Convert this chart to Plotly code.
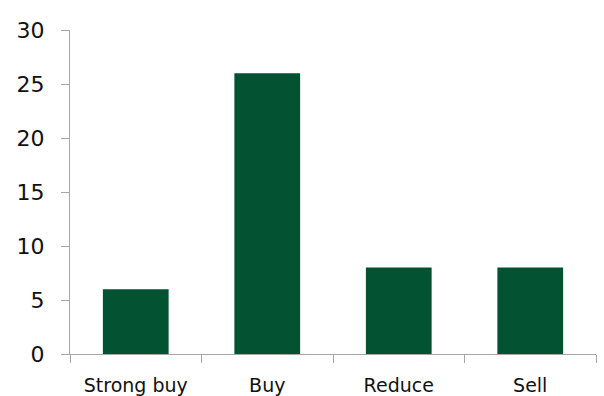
import plotly.graph_objects as go

categories = ["Strong buy", "Buy", "Reduce", "Sell"]
values = [6, 26, 8, 8]
y_ticks = [0, 5, 10, 15, 20, 25, 30]

fig = go.Figure(go.Bar(x=categories, y=values, marker_color="#035232",
                       marker_line_width=0, width=0.5))

fig.update_layout(
    width=604, height=396,
    margin=dict(l=70, r=8, t=30, b=42),
    plot_bgcolor="white", paper_bgcolor="white",
    font=dict(family="DejaVu Sans", color="#111111"),
    showlegend=False,
)
fig.update_yaxes(range=[0, 30], tickvals=y_ticks, showgrid=False, zeroline=False,
                 showline=True, linecolor="#a6a6a6", linewidth=1,
                 ticks="outside", ticklen=8, tickcolor="#a6a6a6", automargin=False,
                 tickfont=dict(size=22), ticklabelstandoff=12)
fig.update_xaxes(range=[-0.5, 3.5], showgrid=False, showline=True,
                 linecolor="#a6a6a6", linewidth=1, ticks="outside", ticklen=8,
                 tickcolor="#a6a6a6", tickson="boundaries", automargin=False,
                 tickfont=dict(size=19), ticklabelstandoff=14)

fig.write_html("out.html")
